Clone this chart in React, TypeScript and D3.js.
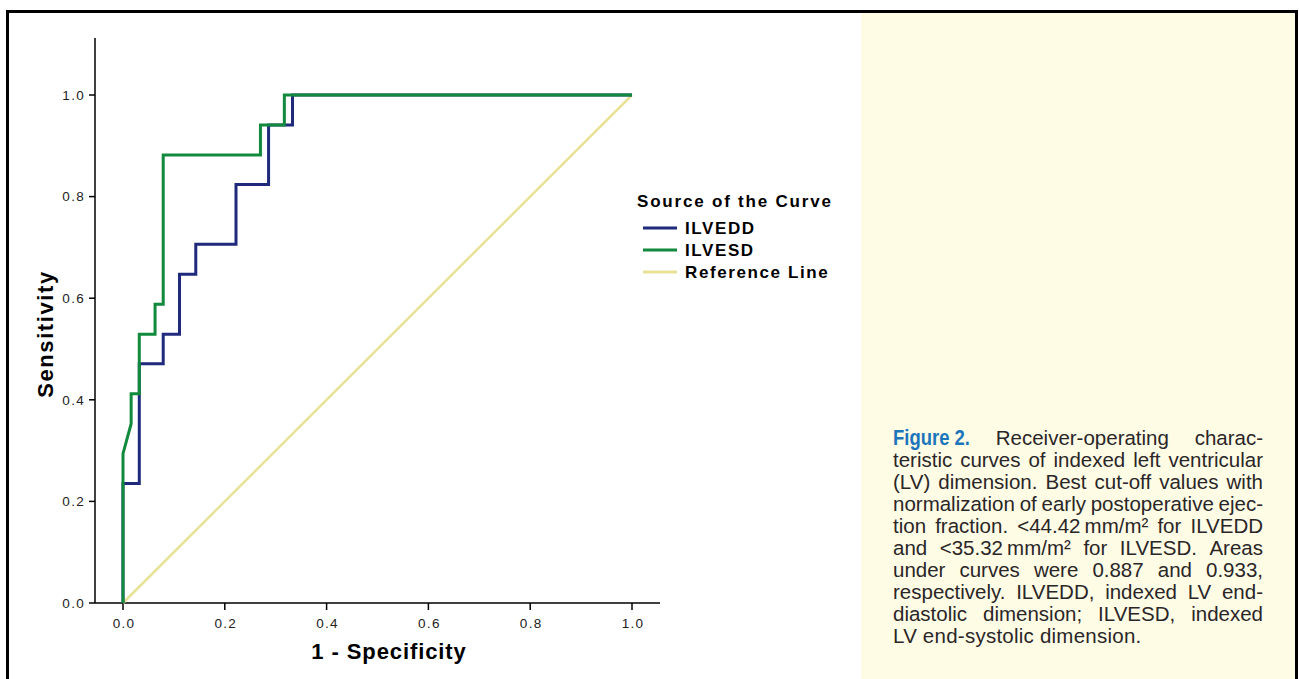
import { useEffect, useRef } from 'react';
import * as d3 from 'd3';

const W = 1299;
const H = 679;

// ROC vertices (1 - specificity, sensitivity)
const eddFpr = [0, 0, 0.032, 0.032, 0.079, 0.079, 0.111, 0.111, 0.143, 0.143, 0.222, 0.222, 0.286, 0.286, 0.333, 0.333, 1];
const eddTpr = [0, 0.235, 0.235, 0.471, 0.471, 0.529, 0.529, 0.647, 0.647, 0.706, 0.706, 0.824, 0.824, 0.941, 0.941, 1, 1];
const esdFpr = [0, 0, 0.016, 0.016, 0.032, 0.032, 0.063, 0.063, 0.079, 0.079, 0.27, 0.27, 0.317, 0.317, 1];
const esdTpr = [0, 0.294, 0.353, 0.412, 0.412, 0.529, 0.529, 0.588, 0.588, 0.882, 0.882, 0.941, 0.941, 1, 1];
const refFpr = [0, 1];
const refTpr = [0, 1];

const tickValues = [0, 0.2, 0.4, 0.6, 0.8, 1.0];
const legendTitle = 'Source of the Curve';
const legendLabels = ['ILVEDD', 'ILVESD', 'Reference Line'];
const legendColors = ['#1f2a7c', '#128a3e', '#e8e296'];

const captionLabel = 'Figure 2.';
const captionLines = [
  'Receiver-operating charac-',
  'teristic curves of indexed left ventricular',
  '(LV) dimension. Best cut-off values with',
  'normalization of early postoperative ejec-',
  'tion fraction. <44.42\u2009mm/m\u00b2 for ILVEDD',
  'and <35.32\u2009mm/m\u00b2 for ILVESD. Areas',
  'under curves were 0.887 and 0.933,',
  'respectively. ILVEDD, indexed LV end-',
  'diastolic dimension; ILVESD, indexed',
  'LV end-systolic dimension.',
];

const zip = (xs: number[], ys: number[]) => xs.map((x, i) => [x, ys[i]] as [number, number]);

export default function App() {
  const svgRef = useRef<SVGSVGElement>(null);

  useEffect(() => {
    if (!svgRef.current) return;
    const svg = d3.select(svgRef.current);
    svg.selectAll('*').remove();

    const sans = '"Liberation Sans", Arial, Helvetica, sans-serif';

    // caption panel + frame
    svg.append('rect').attr('x', 861).attr('y', 12).attr('width', 436).attr('height', H).attr('fill', '#fffce6');
    svg.append('rect')
      .attr('x', 7.5).attr('y', 11.5).attr('width', 1289).attr('height', H + 20)
      .attr('fill', 'none').attr('stroke', '#000').attr('stroke-width', 3);

    const x = d3.scaleLinear().domain([0, 1]).range([123, 632]);
    const y = d3.scaleLinear().domain([0, 1]).range([603, 95]);
    const axisLeft = 95;
    const axisTop = 38;
    const axisRight = 660;

    const g = svg.append('g');

    // axes
    g.append('line').attr('x1', axisLeft).attr('x2', axisLeft).attr('y1', axisTop).attr('y2', y(0))
      .attr('stroke', '#000').attr('stroke-width', 1.5);
    g.append('line').attr('x1', axisLeft).attr('x2', axisRight).attr('y1', y(0)).attr('y2', y(0))
      .attr('stroke', '#000').attr('stroke-width', 1.5);

    g.selectAll('.ytick').data(tickValues).enter().append('line')
      .attr('x1', axisLeft - 6).attr('x2', axisLeft).attr('y1', d => y(d)).attr('y2', d => y(d))
      .attr('stroke', '#000').attr('stroke-width', 1.5);
    g.selectAll('.ylab').data(tickValues).enter().append('text')
      .attr('x', axisLeft - 10).attr('y', d => y(d)).attr('dy', '0.36em')
      .attr('text-anchor', 'end').attr('font-family', sans).attr('font-size', 13.5)
      .attr('letter-spacing', 1.3).attr('fill', '#222')
      .text(d => d.toFixed(1));

    g.selectAll('.xtick').data(tickValues).enter().append('line')
      .attr('x1', d => x(d)).attr('x2', d => x(d)).attr('y1', y(0)).attr('y2', y(0) + 7)
      .attr('stroke', '#000').attr('stroke-width', 1.5);
    g.selectAll('.xlab').data(tickValues).enter().append('text')
      .attr('x', d => x(d) + 1).attr('y', y(0) + 25)
      .attr('text-anchor', 'middle').attr('font-family', sans).attr('font-size', 13.5)
      .attr('letter-spacing', 1.3).attr('fill', '#222')
      .text(d => d.toFixed(1));

    g.append('text')
      .attr('x', 389).attr('y', 659).attr('text-anchor', 'middle')
      .attr('font-family', sans).attr('font-weight', 'bold').attr('font-size', 22)
      .attr('letter-spacing', 0.9).attr('fill', '#000')
      .text('1 - Specificity');
    g.append('text')
      .attr('transform', 'translate(53,334) rotate(-90)').attr('text-anchor', 'middle')
      .attr('font-family', sans).attr('font-weight', 'bold').attr('font-size', 22)
      .attr('letter-spacing', 1.6).attr('fill', '#000')
      .text('Sensitivity');

    // curves
    const line = d3.line<[number, number]>().x(d => x(d[0])).y(d => y(d[1]));
    const series = [zip(refFpr, refTpr), zip(eddFpr, eddTpr), zip(esdFpr, esdTpr)];
    const seriesColors = [legendColors[2], legendColors[0], legendColors[1]];
    series.forEach((pts, i) => {
      g.append('path').datum(pts).attr('d', line)
        .attr('fill', 'none').attr('stroke', seriesColors[i])
        .attr('stroke-width', i === 0 ? 2.5 : 3).attr('stroke-linejoin', 'miter');
    });

    // legend
    const lg = svg.append('g');
    lg.append('text').attr('x', 637).attr('y', 207)
      .attr('font-family', sans).attr('font-weight', 'bold').attr('font-size', 17)
      .attr('letter-spacing', 1.8).attr('fill', '#000').text(legendTitle);
    legendLabels.forEach((lab, i) => {
      const cy = 228 + i * 22;
      lg.append('line').attr('x1', 643).attr('x2', 677).attr('y1', cy).attr('y2', cy)
        .attr('stroke', legendColors[i]).attr('stroke-width', 3);
      lg.append('text').attr('x', 685).attr('y', cy).attr('dy', '0.36em')
        .attr('font-family', sans).attr('font-weight', 'bold').attr('font-size', 17)
        .attr('letter-spacing', 1.6).attr('fill', '#000').text(lab);
    });

    // caption, justified
    const cap = svg.append('g');
    const left = 893;
    const right = 1263;
    captionLines.forEach((ln, i) => {
      const by = 445 + i * 22;
      const words = ln.split(' ');
      const tokens = (i === 0 ? [captionLabel] : []).concat(words);
      const last = i === captionLines.length - 1;
      const nodes = tokens.map((t, j) => {
        const isLabel = i === 0 && j === 0;
        const tx = cap.append('text').attr('x', 0).attr('y', by)
          .attr('fill', isLabel ? '#1b75bb' : '#2a2627')
          .attr('font-family', sans)
          .attr('font-weight', isLabel ? 'bold' : 'normal')
          .attr('font-size', isLabel ? 21.5 : 20.5)
          .text(t);
        if (isLabel) tx.attr('textLength', 77).attr('lengthAdjust', 'spacingAndGlyphs');
        if (last) tx.attr('letter-spacing', 0.25);
        return tx;
      });
      const widths = nodes.map((n, j) => (i === 0 && j === 0 ? 77 : (n.node() as SVGTextElement).getComputedTextLength()));
      const total = d3.sum(widths);
      const gap = last || tokens.length < 2 ? 5.8 : (right - left - total) / (tokens.length - 1);
      let cx = left;
      nodes.forEach((n, j) => {
        n.attr('x', cx);
        cx += widths[j] + gap;
      });
    });
  }, []);

  return (
    <svg
      ref={svgRef}
      width={W}
      height={H}
      style={{ position: 'absolute', left: 0, top: 0, background: '#fff' }}
    />
  );
}
